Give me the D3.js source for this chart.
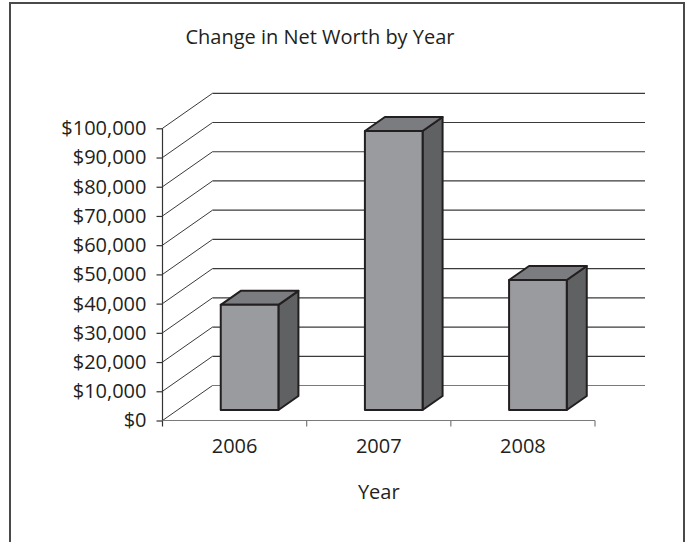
<!DOCTYPE html>
<html>
<head>
<meta charset="utf-8">
<script src="https://cdn.jsdelivr.net/npm/d3@7/dist/d3.min.js"></script>
<style>
  html, body { margin: 0; padding: 0; background: #fff; }
  svg { display: block; }
  text { font-family: "Open Sans", "Noto Sans", sans-serif; fill: #231f20; }
</style>
</head>
<body>
<svg id="chart" width="690" height="542"></svg>
<script>
const categories = ["2006", "2007", "2008"];
const values = [36000, 95500, 44500];
const yTicks = [0, 10000, 20000, 30000, 40000, 50000, 60000, 70000, 80000, 90000, 100000];
const title = "Change in Net Worth by Year";
const xTitle = "Year";

(function () {
const svg = d3.select("#chart");
const W = 690, H = 542;

// frame
svg.append("rect")
  .attr("x", 10).attr("y", 3).attr("width", 674).attr("height", H + 10)
  .attr("fill", "none").attr("stroke", "#4a4a4a").attr("stroke-width", 2);

// plot geometry (front plane) and depth vector
const pLeft = 162.5, pRight = 595, pBottom = 420.5, pTop = 128.3;
const DX = 50, DY = -35;
const backRight = 645;

const x = d3.scaleBand().domain(categories).range([pLeft, pRight])
  .paddingInner(0.6).paddingOuter(0.3);
const y = d3.scaleLinear().domain([0, 100000]).range([pBottom, pTop]);

const grid = svg.append("g");
yTicks.forEach(t => {
  const yy = y(t);
  const c = t === 0 ? "#7a7a7a" : "#3a3a3a";
  grid.append("line")
    .attr("x1", pLeft + DX).attr("y1", yy + DY)
    .attr("x2", backRight).attr("y2", yy + DY)
    .attr("stroke", c).attr("stroke-width", 1.2);
  grid.append("line")
    .attr("x1", pLeft).attr("y1", yy)
    .attr("x2", pLeft + DX).attr("y2", yy + DY)
    .attr("stroke", "#3a3a3a").attr("stroke-width", 1);
});

// y axis
const yAxis = d3.axisLeft(y).tickValues(yTicks).tickSize(6).tickPadding(10)
  .tickFormat(d => "$" + d3.format(",")(d));
const ya = svg.append("g").attr("transform", `translate(${pLeft},0)`).call(yAxis);
ya.select(".domain").remove();
ya.append("line").attr("x1", 0).attr("x2", 0).attr("y1", pTop).attr("y2", pBottom + 6)
  .attr("stroke", "#333").attr("stroke-width", 1.2);
ya.selectAll(".tick line").attr("stroke", "#333").attr("stroke-width", 1.2);
ya.selectAll(".tick text").attr("font-size", 20).attr("fill", "#231f20")
  .style("font-family", '"Open Sans", sans-serif');

// x axis
const xEdges = d3.scaleLinear().domain([0, categories.length]).range([pLeft, pRight]);
const xa = svg.append("g");
xa.append("line").attr("x1", pLeft).attr("x2", pRight).attr("y1", pBottom).attr("y2", pBottom)
  .attr("stroke", "#7a7a7a").attr("stroke-width", 1.2);
d3.range(1, categories.length + 1).forEach(i => {
  xa.append("line").attr("x1", xEdges(i)).attr("x2", xEdges(i))
    .attr("y1", pBottom).attr("y2", pBottom + 6)
    .attr("stroke", "#7a7a7a").attr("stroke-width", 1.2);
});
xa.selectAll("text.cat").data(categories).join("text").attr("class", "cat")
  .attr("x", (d, i) => (xEdges(i) + xEdges(i + 1)) / 2)
  .attr("y", 453).attr("text-anchor", "middle").attr("font-size", 20)
  .text(d => d);

// bars (oblique 3D)
const z0 = 0.3, z1 = 0.7;
const bars = svg.append("g");
categories.forEach((c, i) => {
  const v = values[i];
  const fx0 = x(c) + z0 * DX, fx1 = fx0 + x.bandwidth();
  const fyTop = y(v) + z0 * DY, fyBot = y(0) + z0 * DY;
  const ddx = (z1 - z0) * DX, ddy = (z1 - z0) * DY;
  const g = bars.append("g")
    .attr("stroke", "#231f20").attr("stroke-width", 2).attr("stroke-linejoin", "round");
  g.append("path").attr("fill", "#606163")
    .attr("d", `M${fx1},${fyTop}L${fx1 + ddx},${fyTop + ddy}L${fx1 + ddx},${fyBot + ddy}L${fx1},${fyBot}Z`);
  g.append("path").attr("fill", "#7b7c7f")
    .attr("d", `M${fx0},${fyTop}L${fx0 + ddx},${fyTop + ddy}L${fx1 + ddx},${fyTop + ddy}L${fx1},${fyTop}Z`);
  g.append("path").attr("fill", "#9a9b9e")
    .attr("d", `M${fx0},${fyTop}L${fx1},${fyTop}L${fx1},${fyBot}L${fx0},${fyBot}Z`);
});

// titles
svg.append("text").attr("x", 320).attr("y", 44).attr("text-anchor", "middle")
  .attr("font-size", 20).text(title);
svg.append("text").attr("x", (pLeft + pRight) / 2).attr("y", 499).attr("text-anchor", "middle")
  .attr("font-size", 20).text(xTitle);
})();
</script>
</body>
</html>
